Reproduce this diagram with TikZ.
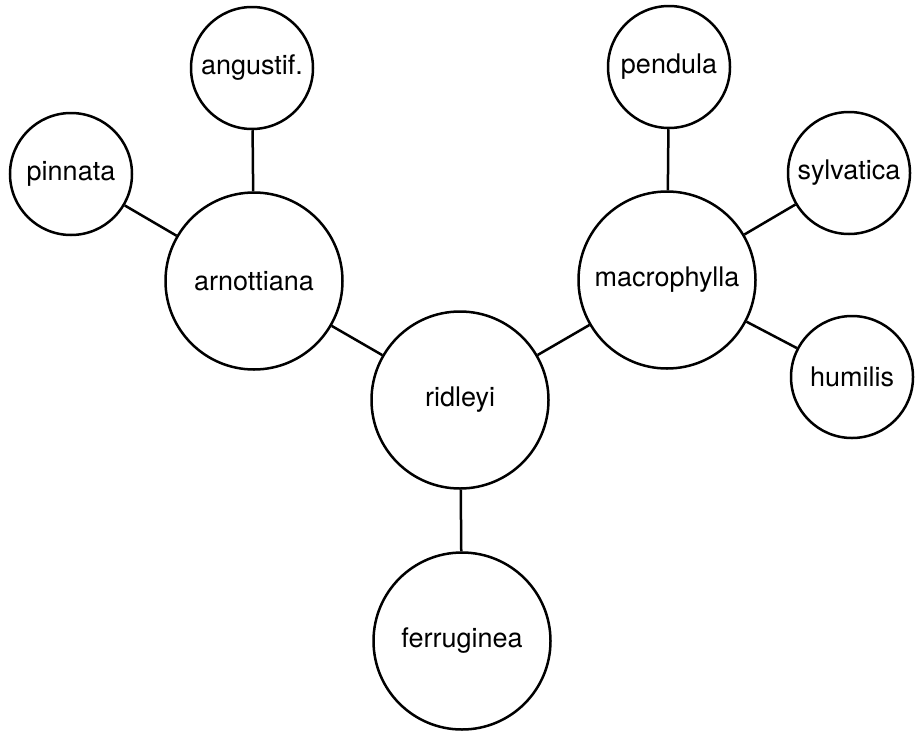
\documentclass[tikz,border=0pt]{standalone}
\usepackage{fontspec}
\setmainfont{TeX Gyre Heros}
\begin{document}
\begin{tikzpicture}[x=1pt,y=-1pt,
  taxon/.style={circle,draw,line width=2.5pt,inner sep=0pt,font=\fontsize{27}{31}\selectfont},
  small/.style={taxon,minimum size=122pt},
  big/.style={taxon,minimum size=177pt},
  link/.style={line width=2.5pt}]
\useasboundingbox (0,0) rectangle (915,731);
\node[small] (ang) at (252,68) {angustif.};
\node[small] (pin) at (71,174) {pinnata};
\node[big] (arn) at (254,281) {arnottiana};
\node[big] (rid) at (460,400) {ridleyi};
\node[big] (fer) at (462,641) {ferruginea};
\node[big] (mac) at (667,280) {macrophylla};
\node[small] (pen) at (669,67) {pendula};
\node[small] (syl) at (849,173) {sylvatica};
\node[small] (hum) at (852,377) {humilis};
\draw[link] (ang) -- (arn);
\draw[link] (pin) -- (arn);
\draw[link] (arn) -- (rid);
\draw[link] (rid) -- (fer);
\draw[link] (rid) -- (mac);
\draw[link] (pen) -- (mac);
\draw[link] (syl) -- (mac);
\draw[link] (hum) -- (mac);
\end{tikzpicture}
\end{document}
